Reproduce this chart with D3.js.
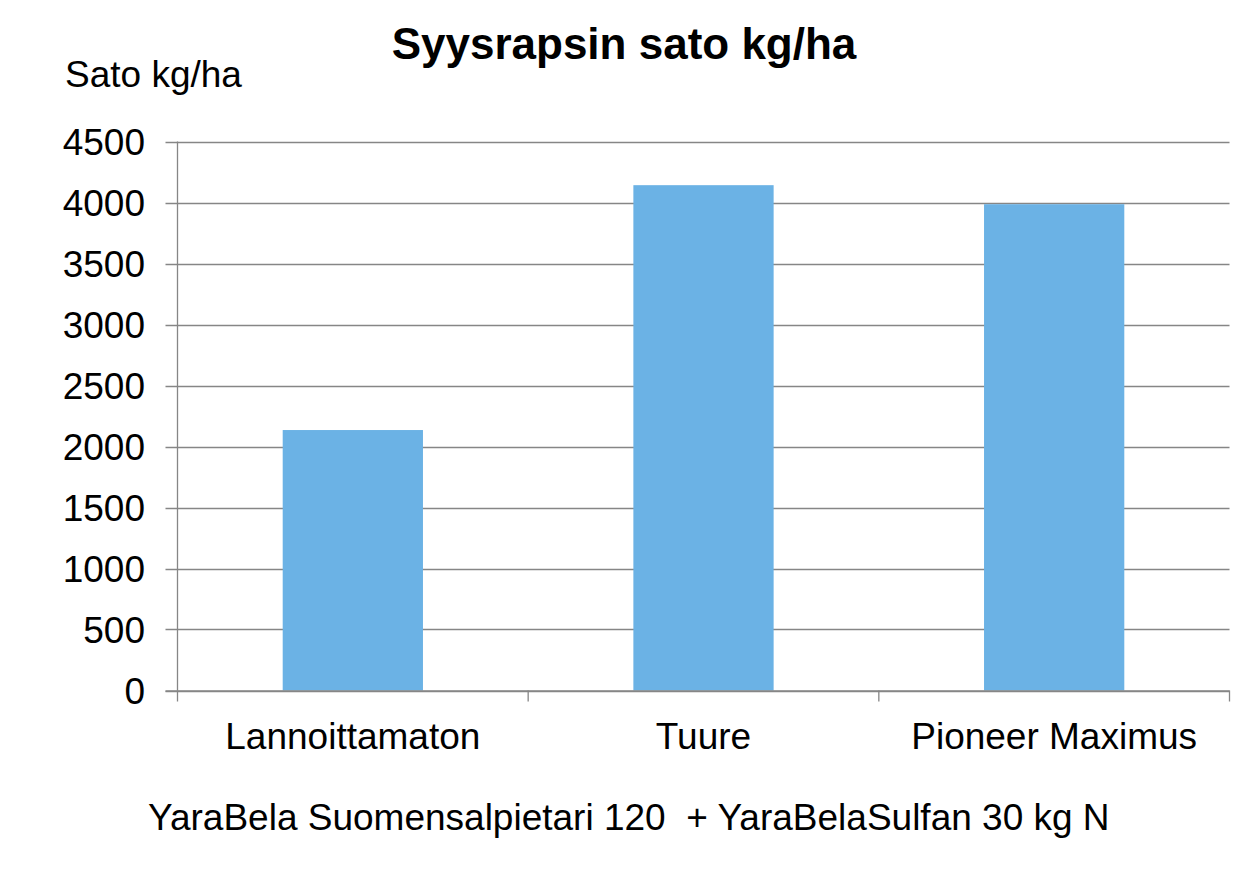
<!DOCTYPE html>
<html>
<head>
<meta charset="utf-8">
<script src="https://cdn.jsdelivr.net/npm/d3@7"></script>
<style>
  html, body { margin: 0; padding: 0; background: #fff; }
  svg { display: block; font-family: "Liberation Sans", Arial, sans-serif; }
</style>
</head>
<body>
<svg id="chart" width="1252" height="874"></svg>
<script>
const categories = ["Lannoittamaton", "Tuure", "Pioneer Maximus"];
const values = [2135, 4142, 3986];
const yTicks = [0, 500, 1000, 1500, 2000, 2500, 3000, 3500, 4000, 4500];
const titleText = "Syysrapsin sato kg/ha";
const yLabelText = "Sato kg/ha";
const footnoteText = "YaraBela Suomensalpietari 120  + YaraBelaSulfan 30 kg N";

(function () {
const svg = d3.select("#chart");
const pL = 177.5, pR = 1229.5, pT = 141.5, pB = 690.5;

const x = d3.scaleBand().domain(categories).range([pL, pR]).paddingInner(0).paddingOuter(0);
const y = d3.scaleLinear().domain([0, 4500]).range([pB, pT]);

const grid = "#868686";
const fs = 37;

// gridlines
svg.append("g").selectAll("line").data(yTicks).join("line")
  .attr("x1", pL - 12).attr("x2", pR)
  .attr("y1", d => Math.round(y(d)) + 0.5).attr("y2", d => Math.round(y(d)) + 0.5)
  .attr("stroke", grid).attr("stroke-width", 1.3);

// bars
const barW = x.bandwidth() * 0.4;
svg.append("g").selectAll("rect").data(values).join("rect")
  .attr("x", (d, i) => x(categories[i]) + (x.bandwidth() - barW) / 2)
  .attr("width", barW)
  .attr("y", d => y(d))
  .attr("height", d => pB - y(d))
  .attr("fill", "#6BB2E5");

// y axis line
svg.append("line").attr("x1", pL).attr("x2", pL).attr("y1", pT).attr("y2", pB)
  .attr("stroke", grid).attr("stroke-width", 1.3);
// x axis line
svg.append("line").attr("x1", pL - 12).attr("x2", pR).attr("y1", pB + 0.5).attr("y2", pB + 0.5)
  .attr("stroke", grid).attr("stroke-width", 1.3);

// x ticks at band boundaries
const xb = categories.map(c => x(c)).concat([pR]);
svg.append("g").selectAll("line").data(xb).join("line")
  .attr("x1", d => d).attr("x2", d => d).attr("y1", pB).attr("y2", pB + 11)
  .attr("stroke", grid).attr("stroke-width", 1.3);

// y tick labels
svg.append("g").selectAll("text").data(yTicks).join("text")
  .attr("x", 145).attr("y", d => y(d)).attr("dy", "0.36em")
  .attr("text-anchor", "end").attr("font-size", fs).attr("fill", "#000")
  .text(d => d);

// category labels
svg.append("g").selectAll("text").data(categories).join("text")
  .attr("x", d => x(d) + x.bandwidth() / 2).attr("y", 749)
  .attr("text-anchor", "middle").attr("font-size", fs).attr("fill", "#000")
  .text(d => d);

// title
svg.append("text").attr("x", 624).attr("y", 59).attr("text-anchor", "middle")
  .attr("font-size", 44).attr("font-weight", "bold").attr("fill", "#000").text(titleText);

// y label
svg.append("text").attr("x", 65).attr("y", 87).attr("font-size", fs).attr("fill", "#000").text(yLabelText);

// footnote
svg.append("text").attr("x", 148).attr("y", 830).attr("font-size", fs).attr("fill", "#000")
  .style("white-space", "pre").text(footnoteText);
})();
</script>
</body>
</html>
